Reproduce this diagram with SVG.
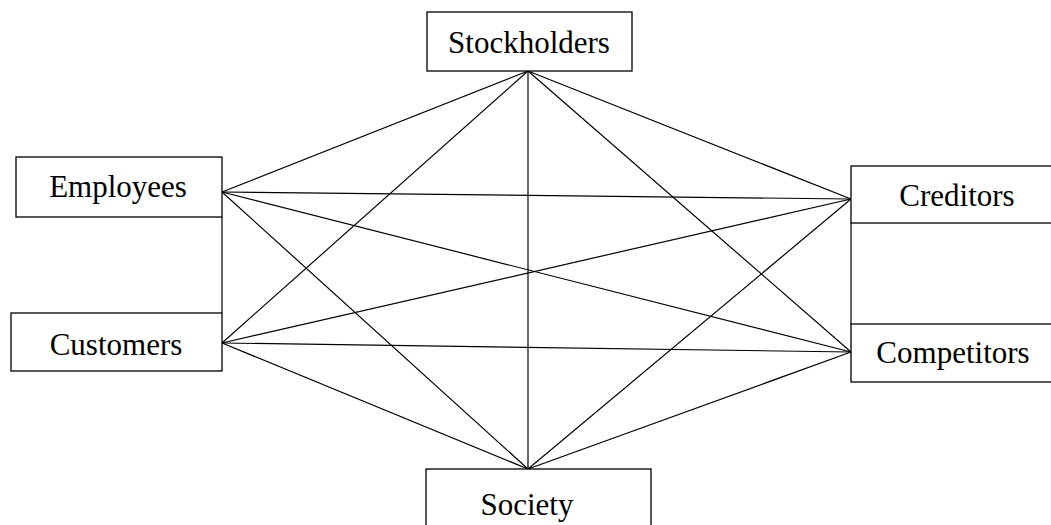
<svg xmlns="http://www.w3.org/2000/svg" width="1051" height="525" viewBox="0 0 1051 525">
<style>
.box{fill:#fff;stroke:#000;stroke-width:1.3}
.lbl{font-family:"Liberation Serif","Times New Roman",serif;font-size:31px;fill:#000;text-anchor:middle}
#connectors line{stroke:#000;stroke-width:1.2}
</style>
<rect width="1051" height="525" fill="#fff"/>
<g id="connectors">
<line x1="528" y1="71" x2="528" y2="469"/>
<line x1="528" y1="71" x2="222" y2="192"/>
<line x1="528" y1="71" x2="222" y2="343"/>
<line x1="528" y1="71" x2="851" y2="199"/>
<line x1="528" y1="71" x2="851" y2="352"/>
<line x1="222" y1="192" x2="851" y2="199"/>
<line x1="222" y1="192" x2="851" y2="352"/>
<line x1="222" y1="192" x2="528" y2="469"/>
<line x1="222" y1="343" x2="851" y2="199"/>
<line x1="222" y1="343" x2="851" y2="352"/>
<line x1="222" y1="343" x2="528" y2="469"/>
<line x1="528" y1="469" x2="851" y2="199"/>
<line x1="528" y1="469" x2="851" y2="352"/>
<line x1="222" y1="217" x2="222" y2="313"/>
<line x1="851" y1="223" x2="851" y2="324"/>
</g>
<g id="stockholders"><rect class="box" x="427" y="12" width="205" height="59"/><text class="lbl" x="529" y="53">Stockholders</text></g>
<g id="employees"><rect class="box" x="16" y="157" width="206" height="60"/><text class="lbl" x="118" y="197">Employees</text></g>
<g id="customers"><rect class="box" x="11" y="313" width="211" height="58"/><text class="lbl" x="116" y="355">Customers</text></g>
<g id="creditors"><rect class="box" x="851" y="166" width="210" height="57"/><text class="lbl" x="957" y="206">Creditors</text></g>
<g id="competitors"><rect class="box" x="851" y="324" width="210" height="58"/><text class="lbl" x="953" y="363">Competitors</text></g>
<g id="society"><rect class="box" x="426" y="469" width="225" height="70"/><text class="lbl" x="527" y="515">Society</text></g>
</svg>
